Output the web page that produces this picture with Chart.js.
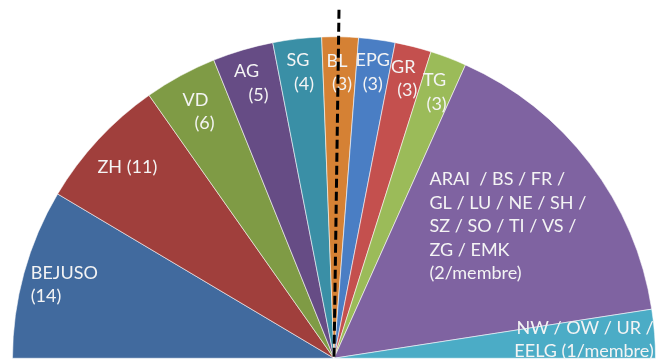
<!DOCTYPE html>
<html>
<head>
<meta charset="utf-8">
<script src="https://cdn.jsdelivr.net/npm/chart.js@4/dist/chart.umd.min.js"></script>
<style>
  html, body { margin: 0; padding: 0; background: #ffffff; }
  #wrap { width: 667px; height: 363px; }
</style>
</head>
<body>
<div id="wrap"><canvas id="c" width="667" height="363"></canvas></div>
<script>
// ---- data ----
const categories = ['BEJUSO', 'ZH', 'VD', 'AG', 'SG', 'BL', 'EPG', 'GR', 'TG',
  'ARAI / BS / FR / GL / LU / NE / SH / SZ / SO / TI / VS / ZG / EMK',
  'NW / OW / UR / EELG'];
const seats = [14, 11, 6, 5, 4, 3, 3, 3, 3, 26, 4];
const labelLines = [
  ['BEJUSO', '(14)'],
  ['ZH (11)'],
  ['VD', '(6)'],
  ['AG', '(5)'],
  ['SG', '(4)'],
  ['BL', '(3)'],
  ['EPG', '(3)'],
  ['GR', '(3)'],
  ['TG', '(3)'],
  ['ARAI  / BS / FR /', 'GL / LU / NE / SH /', 'SZ / SO / TI / VS /', 'ZG / EMK', '(2/membre)'],
  ['NW / OW / UR /', 'EELG (1/membre)']
];
const majority = 41;

// ---- styles ----
const colors = ['#416a9e', '#a03f3c', '#7f9b45', '#664c85', '#3a8fa6', '#d58134',
  '#4a7ec4', '#c4504e', '#9bbb59', '#7f63a1', '#4bacc6'];
const labelRadius = [0.87, 0.876, 0.876, 0.894, 0.897, 0.89, 0.90, 0.90, 0.888, 0.68, 0.78];
const labelAlign = ['left', 'center', 'center', 'center', 'center', 'center', 'center', 'center', 'center', 'left', 'right'];
const lineShift = [[0, 0], [0], [-4, 5], [-6, 6], [-3, 3], [-2.5, 2.5], [0, 0], [-2, 2], [-1, 1], [0, 0, 0, 0, 0], [0, 0]];
const FONT = '18px Lato';
const LINE_H = 23.6;
const CAP_H = 13;

const labelPlugin = {
  id: 'sliceLabels',
  afterDatasetsDraw(chart) {
    const ctx = chart.ctx;
    const arcs = chart.getDatasetMeta(0).data;
    ctx.save();
    ctx.font = FONT;
    ctx.fillStyle = '#f4f4f4';
    ctx.textBaseline = 'alphabetic';
    arcs.forEach((arc, i) => {
      const mid = (arc.startAngle + arc.endAngle) / 2;
      const r = arc.outerRadius * labelRadius[i];
      const ax = arc.x + Math.cos(mid) * r;
      const ay = arc.y + Math.sin(mid) * r;
      const lines = labelLines[i];
      const blockW = Math.max(...lines.map(t => ctx.measureText(t).width));
      const blockH = CAP_H + (lines.length - 1) * LINE_H;
      const y0 = ay - blockH / 2 + CAP_H;
      lines.forEach((t, k) => {
        let x;
        if (labelAlign[i] === 'left') { ctx.textAlign = 'left'; x = ax - blockW / 2; }
        else if (labelAlign[i] === 'right') { ctx.textAlign = 'right'; x = ax + blockW / 2; }
        else { ctx.textAlign = 'center'; x = ax; }
        ctx.fillText(t, x + lineShift[i][k], y0 + k * LINE_H);
      });
    });
    ctx.restore();
  },
  afterDraw(chart) {
    // dashed majority line
    const arc = chart.getDatasetMeta(0).data[0];
    const total = seats.reduce((a, b) => a + b, 0);
    const ang = Math.PI * (-1 + majority / total);
    const ctx = chart.ctx;
    const len = arc.outerRadius + 27;
    ctx.save();
    ctx.strokeStyle = '#000000';
    ctx.lineWidth = 3;
    ctx.setLineDash([9, 4]);
    ctx.beginPath();
    ctx.moveTo(arc.x + Math.cos(ang) * len + 5, arc.y + Math.sin(ang) * len);
    ctx.lineTo(arc.x, arc.y);
    ctx.stroke();
    ctx.restore();
  }
};

new Chart(document.getElementById('c'), {
  type: 'pie',
  data: {
    labels: categories,
    datasets: [{
      data: seats,
      backgroundColor: colors,
      borderColor: 'rgba(255,255,255,0.55)',
      borderWidth: 1
    }]
  },
  options: {
    responsive: false,
    animation: false,
    rotation: -90,
    circumference: 180,
    layout: { padding: { top: 36, bottom: 4, left: 12, right: 11 } },
    plugins: { legend: { display: false }, tooltip: { enabled: false } }
  },
  plugins: [labelPlugin]
});
</script>
</body>
</html>
